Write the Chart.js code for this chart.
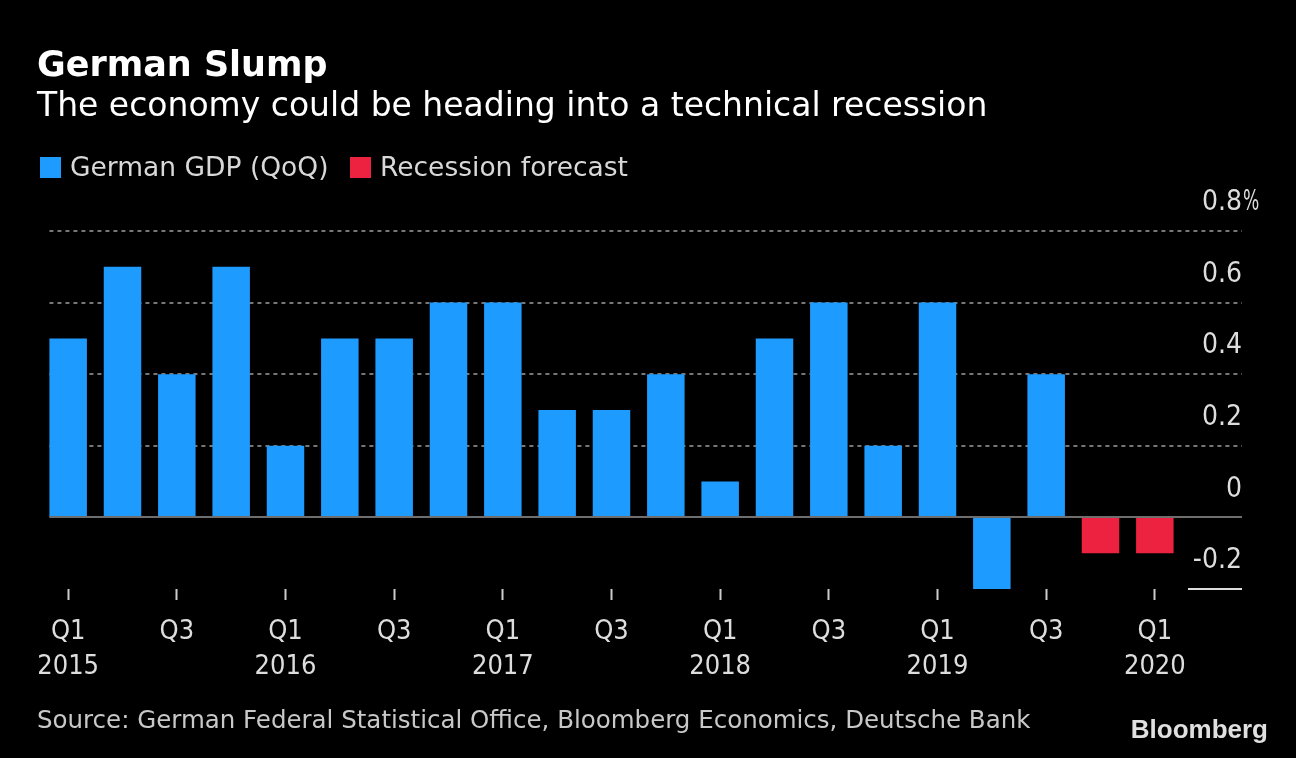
<!DOCTYPE html>
<html>
<head>
<meta charset="utf-8">
<script src="https://cdn.jsdelivr.net/npm/chart.js@4"></script>
<style>
  html, body { margin: 0; padding: 0; background: #000; }
  body { width: 1296px; height: 758px; position: relative; overflow: hidden;
         font-family: "DejaVu Sans", sans-serif; }
  #chart { position: absolute; left: 0; top: 0; }
  .txt { position: absolute; white-space: nowrap; }
  .title { left: 37px; top: 47px; font-weight: bold; font-size: 35px; line-height: 35px; color: #fff; }
  .subtitle { left: 37px; top: 88px; font-size: 33px; line-height: 33px; color: #fff; }
  .legend { top: 154px; font-size: 26.5px; line-height: 26.5px; color: #d8d8d8; }
  .legend i { position: absolute; left: -30px; top: 3px; width: 21px; height: 21px; }
  .source { left: 37px; top: 708px; font-size: 24.5px; line-height: 24.5px; color: #c8c8c8; }
  .logo { right: 28px; top: 716px; font-family: "Liberation Sans", Arial, sans-serif; font-weight: bold;
          font-size: 26px; line-height: 26px; color: #e0e0e0; }
</style>
</head>
<body>
<canvas id="chart" width="1296" height="758"></canvas>
<div class="txt title">German Slump</div>
<div class="txt subtitle">The economy could be heading into a technical recession</div>
<div id="legend"></div>
<div class="txt source">Source: German Federal Statistical Office, Bloomberg Economics, Deutsche Bank</div>
<div class="txt logo">Bloomberg</div>
<script>
const quarters = ['Q1 2015', 'Q2 2015', 'Q3 2015', 'Q4 2015',
                  'Q1 2016', 'Q2 2016', 'Q3 2016', 'Q4 2016',
                  'Q1 2017', 'Q2 2017', 'Q3 2017', 'Q4 2017',
                  'Q1 2018', 'Q2 2018', 'Q3 2018', 'Q4 2018',
                  'Q1 2019', 'Q2 2019', 'Q3 2019', 'Q4 2019',
                  'Q1 2020'];
const gdp = [0.5, 0.7, 0.4, 0.7,
             0.2, 0.5, 0.5, 0.6,
             0.6, 0.3, 0.3, 0.4,
             0.1, 0.5, 0.6, 0.2,
             0.6, -0.2, 0.4, null,
             null];
const forecast = [null, null, null, null,
                  null, null, null, null,
                  null, null, null, null,
                  null, null, null, null,
                  null, null, null, -0.1,
                  -0.1];
const yTicks = [-0.2, 0, 0.2, 0.4, 0.6, 0.8];
const seriesNames = ['German GDP (QoQ)', 'Recession forecast'];
const seriesColors = ['#1e9bff', '#ec2240'];

// legend, as html so it can sit flush with the title
const legendX = [70, 380];
const legendDiv = document.getElementById('legend');
seriesNames.forEach(function (name, i) {
    const d = document.createElement('div');
    d.className = 'txt legend';
    d.style.left = legendX[i] + 'px';
    d.innerHTML = '<i style="background:' + seriesColors[i] + '"></i>' + name;
    legendDiv.appendChild(d);
});

const fontFamily = '"DejaVu Sans Condensed", "DejaVu Sans", sans-serif';

const gridLines = {
    id: 'gridLines',
    beforeDatasetsDraw(chart) {
        const ctx = chart.ctx, y = chart.scales.y;
        const first = chart.getDatasetMeta(0).data[0];
        const x0 = first.x - first.width / 2;
        ctx.save();
        ctx.strokeStyle = '#777';
        ctx.lineWidth = 2;
        ctx.setLineDash([4, 4]);
        yTicks.filter(v => v > 0).forEach(v => {
            const py = Math.round(y.getPixelForValue(v));
            ctx.beginPath();
            ctx.moveTo(x0, py);
            ctx.lineTo(y.right, py);
            ctx.stroke();
        });
        ctx.restore();
    },
    afterDatasetsDraw(chart) {
        const ctx = chart.ctx, y = chart.scales.y;
        const first = chart.getDatasetMeta(0).data[0];
        const x0 = first.x - first.width / 2;
        ctx.save();
        ctx.lineWidth = 2;
        // zero line
        let py = Math.round(y.getPixelForValue(0));
        ctx.strokeStyle = '#6e6e6e';
        ctx.beginPath();
        ctx.moveTo(x0, py);
        ctx.lineTo(y.right, py);
        ctx.stroke();
        // bottom tick under the lowest label
        py = Math.round(y.getPixelForValue(yTicks[0]));
        ctx.strokeStyle = '#ddd';
        ctx.beginPath();
        ctx.moveTo(y.left + 6, py);
        ctx.lineTo(y.right, py);
        ctx.stroke();
        ctx.restore();
    },
    afterDraw(chart) {
        // unit sign after the top label, narrow like the original
        const ctx = chart.ctx, y = chart.scales.y;
        const top = yTicks[yTicks.length - 1];
        ctx.save();
        ctx.translate(y.right + 1, y.getPixelForValue(top) - 28);
        ctx.scale(0.68, 1);
        ctx.font = '28px ' + fontFamily;
        ctx.fillStyle = '#ddd';
        ctx.textAlign = 'left';
        ctx.textBaseline = 'middle';
        ctx.fillText('%', 0, 0);
        ctx.restore();
    }
};

new Chart(document.getElementById('chart'), {
    type: 'bar',
    data: {
        labels: quarters,
        datasets: [{
            label: seriesNames[0],
            data: gdp,
            backgroundColor: seriesColors[0]
        },
        {
            label: seriesNames[1],
            data: forecast,
            backgroundColor: seriesColors[1]
        }]
    },
    options: {
        responsive: false,
        animation: false,
        layout: { padding: { left: 41, right: 54, top: 231, bottom: 0 } },
        datasets: { bar: { grouped: false, categoryPercentage: 1, barPercentage: 0.69 } },
        plugins: { legend: { display: false }, tooltip: { enabled: false } },
        scales: {
            x: {
                grid: {
                    offset: false,
                    drawOnChartArea: false,
                    tickLength: 11,
                    tickWidth: 2,
                    tickColor: c => (c.index % 2 === 0 ? '#ccc' : 'rgba(0,0,0,0)')
                },
                border: { display: false },
                ticks: {
                    autoSkip: false,
                    maxRotation: 0,
                    padding: 14,
                    color: '#ddd',
                    font: { family: fontFamily, size: 27, lineHeight: 1.3 },
                    callback: function (v, i) {
                        const parts = quarters[i].split(' ');
                        if (parts[0] === 'Q1') return [parts[0], parts[1]];
                        if (parts[0] === 'Q3') return parts[0];
                        return '';
                    }
                },
                afterFit: s => { s.height = 758 - 589; s.paddingLeft = 0; s.paddingRight = 0; }
            },
            y: {
                position: 'right',
                min: yTicks[0],
                max: yTicks[yTicks.length - 1],
                grid: { display: false, drawTicks: false },
                border: { display: false },
                afterBuildTicks: s => { s.ticks = yTicks.map(v => ({ value: v })); },
                afterFit: s => { s.width = 60; s.paddingTop = 0; s.paddingBottom = 0; },
                ticks: {
                    crossAlign: 'far',
                    padding: 0,
                    labelOffset: -28,
                    color: '#ddd',
                    font: { family: fontFamily, size: 28 },
                    callback: v => String(Math.round(v * 10) / 10)
                }
            }
        }
    },
    plugins: [gridLines]
});
</script>
</body>
</html>
